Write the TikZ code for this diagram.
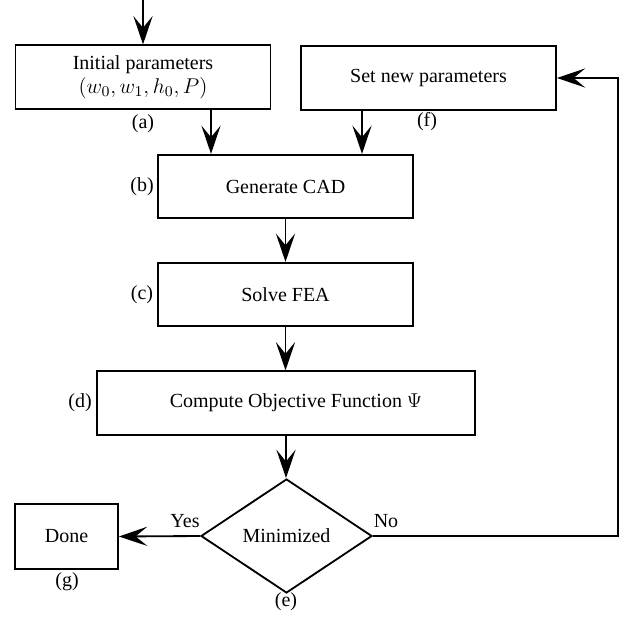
\RequirePackage{fix-cm}
\documentclass[tikz,border=0pt,12pt]{standalone}
\usepackage[no-math]{fontspec}
\setmainfont{Liberation Serif}
\usetikzlibrary{arrows.meta,shapes.geometric}
\begin{document}
\begin{tikzpicture}[x=0.6pt,y=-0.6pt,
  box/.style={draw,line width=1.1pt,minimum width=153pt,minimum height=38pt,inner sep=2pt,align=center},
  lab/.style={inner sep=1pt},
  arr/.style={line width=1.1pt,-{Stealth[length=17pt,width=11.5pt,inset=7pt]}},
  conn/.style={line width=1.1pt}]
\useasboundingbox (0,0) rectangle (627,617);
% boxes
\node[box] (a) at (143,77) {Initial parameters\\{\fontsize{12.8}{14.5}\selectfont$(w_0, w_1, h_0, P)$}};
\node[box] (f) at (428.5,78) {Set new parameters};
\node[box] (b) at (285.5,186.5) {Generate CAD};
\node[box] (c) at (285.5,294.5) {Solve FEA};
\node[box,minimum width=226.8pt] (d) at (286,403) {\hspace*{12pt}Compute Objective Function $\Psi$};
\node[diamond,draw,line width=1.1pt,minimum width=102.6pt,minimum height=68.4pt,inner sep=0pt,shape aspect=1.5] (e) at (286.5,536) {Minimized};
\node[box,minimum width=61.8pt,minimum height=39pt] (g) at (66.5,536.5) {Done};
% labels
\node[lab] (la) at (143,124) {(a)};
\node[lab] (lf) at (427,122) {(f)};
\node[lab] (lb) at (142,187) {(b)};
\node[lab] (lc) at (142,295) {(c)};
\node[lab] (ld) at (80,403) {(d)};
\node[lab] (le) at (286,602) {(e)};
\node[lab] (lg) at (67,582) {(g)};
\node[lab] (yes) at (185,521) {Yes};
\node[lab] (no) at (386,521) {No};
% connectors
\coordinate (top) at (143,0);
\coordinate (xab) at (211,0);
\coordinate (xfb) at (362,0);
\coordinate (rt) at (618,0);
\draw[arr] (top) -- (a.north);
\draw[arr] (xab |- a.south) -- (xab |- b.north);
\draw[arr] (xfb |- f.south) -- (xfb |- b.north);
\draw[arr] (b.south) -- (b.south |- c.north);
\draw[arr] (c.south) -- (c.south |- d.north);
\draw[arr] (d.south) -- (d.south |- e.north);
\draw[arr] (e.west) -- (g.east);
\draw[arr] (e.east) -- (e.east -| rt) |- (f.east);
\end{tikzpicture}
\end{document}
